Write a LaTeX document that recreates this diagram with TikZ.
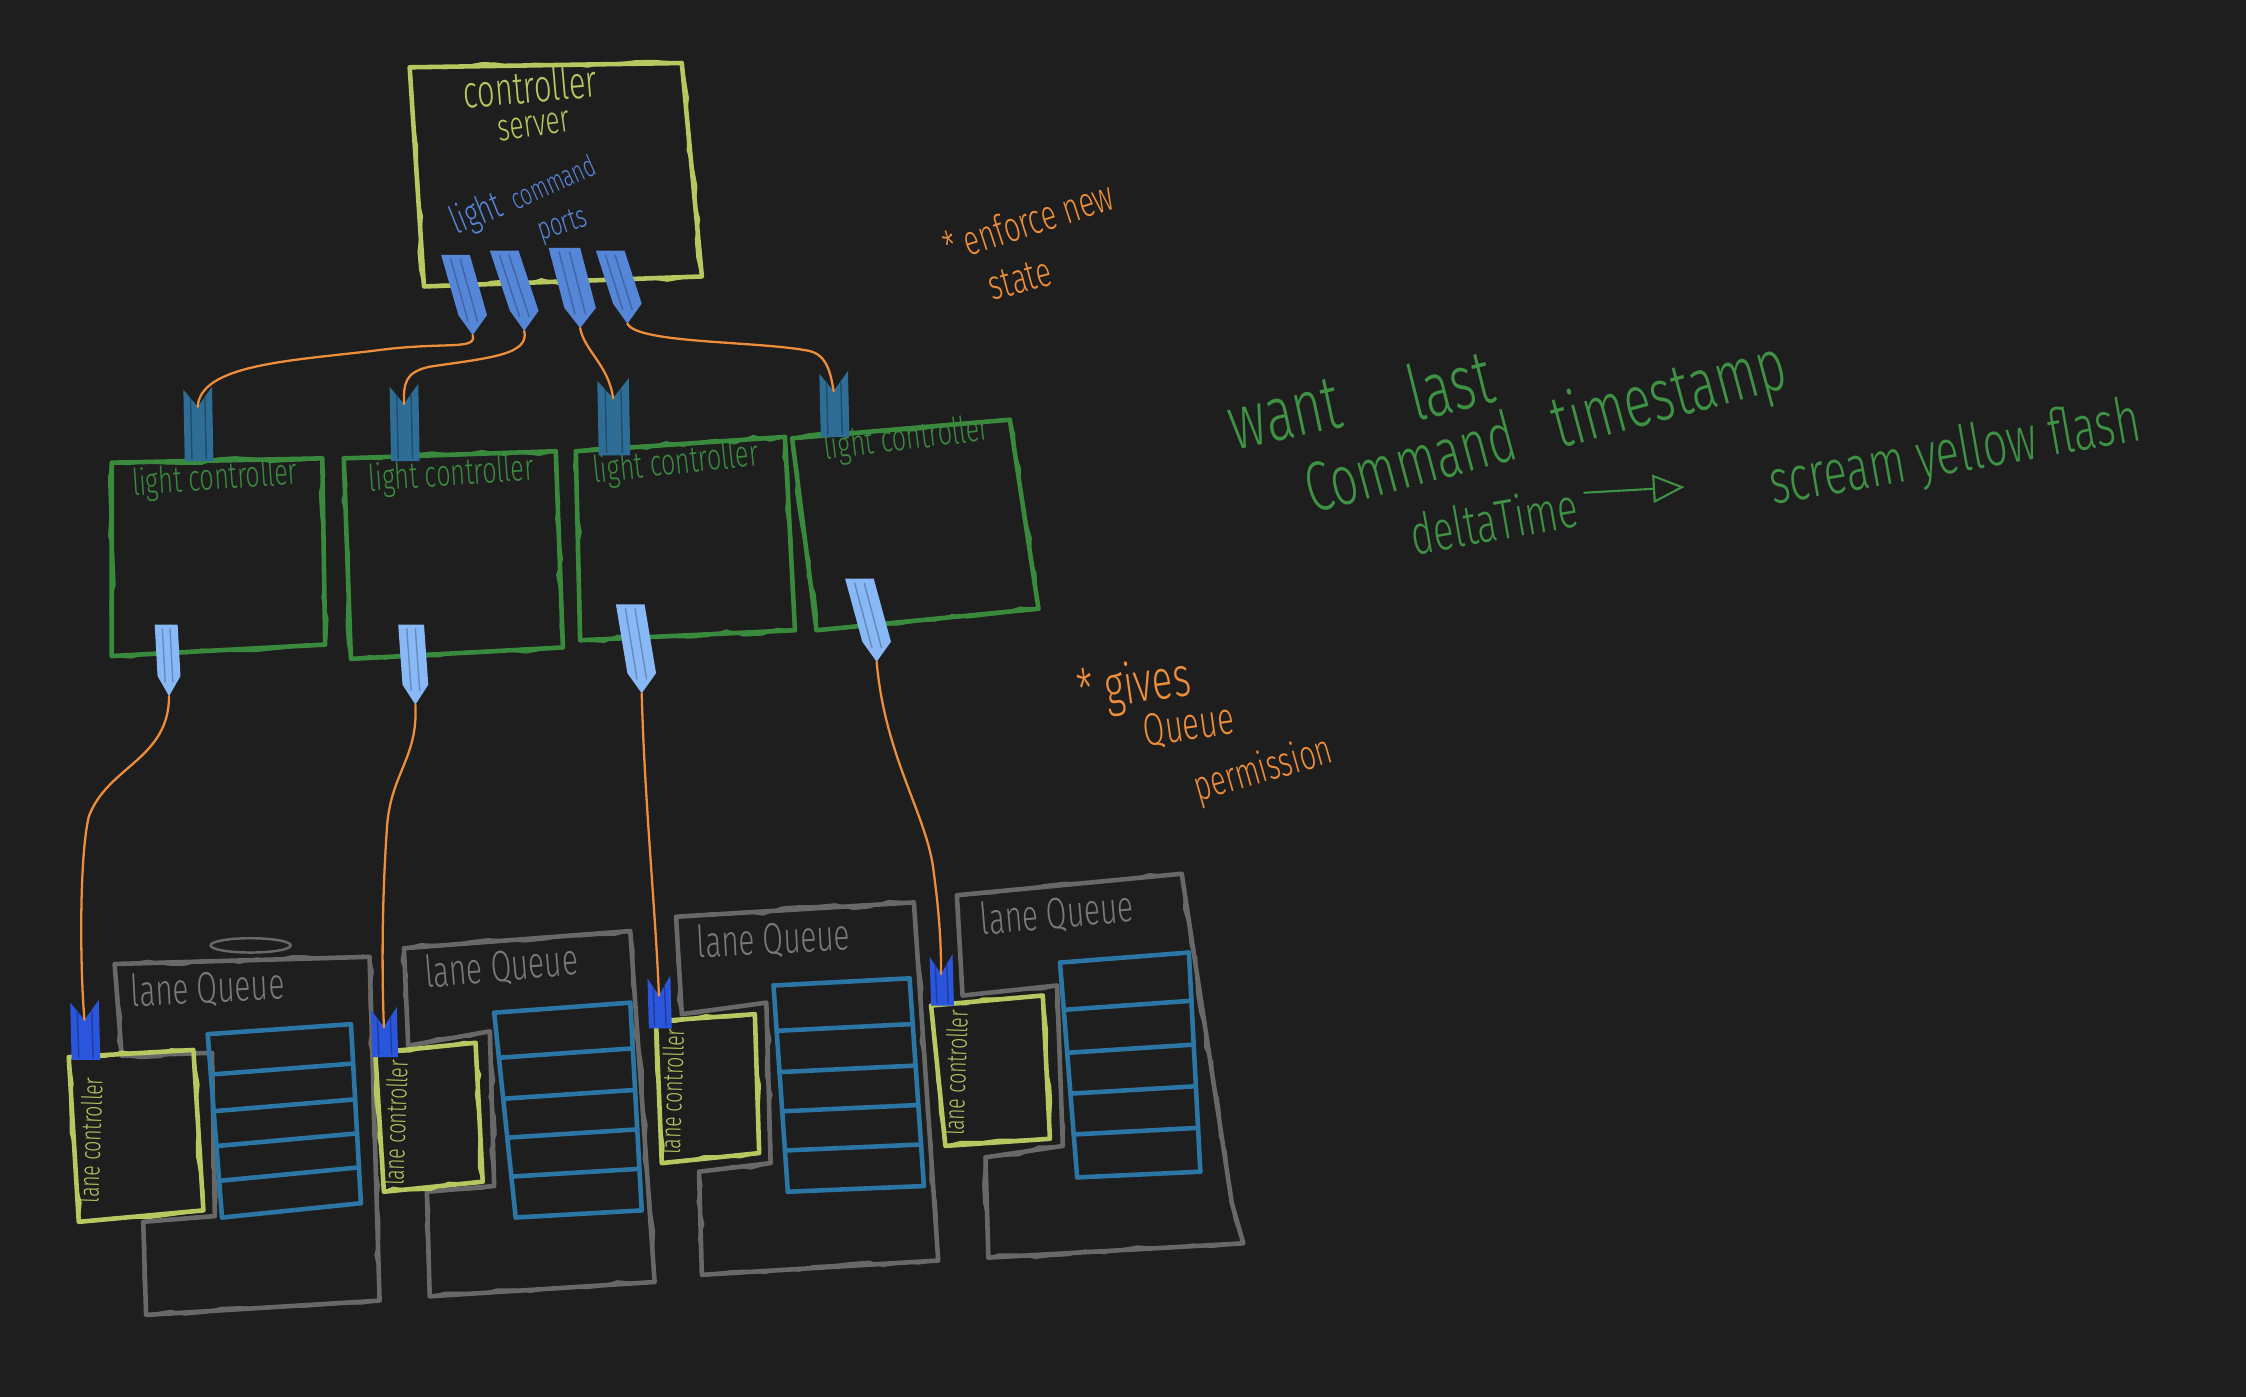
\documentclass[tikz,border=0pt]{standalone}
\usepackage{fontspec}
\setmainfont{Fira Sans Light}
\usetikzlibrary{decorations.pathmorphing,arrows.meta,calc}
\definecolor{bgc}{RGB}{30,30,30}
\definecolor{servercol}{RGB}{183,200,96}
\definecolor{portblue}{RGB}{86,134,216}
\definecolor{wireor}{RGB}{238,142,58}
\definecolor{lcgreen}{RGB}{58,138,62}
\definecolor{tealport}{RGB}{46,110,150}
\definecolor{lightport}{RGB}{136,184,245}
\definecolor{qgray}{RGB}{104,104,104}
\definecolor{qtext}{RGB}{122,122,122}
\definecolor{slotblue}{RGB}{44,118,166}
\definecolor{laneport}{RGB}{42,86,222}
\definecolor{txtgreen}{RGB}{62,146,68}
% #1 name, #2 Tx, #3 Ty, #4 Bx, #5 By, #6 half width, #7 colour
\newcommand\pencilport[7]{%
  \fill[#7] ({#2-#6},#3) -- ({#2+#6},#3) -- ({#4+#6},{#5-14}) -- (#4,#5) -- ({#4-#6},{#5-14}) -- cycle;
  \draw[#7!75!black,line width=0.4pt] ({#2-#6/3},{#3+3}) -- ({#4-#6/3},{#5-10});
  \draw[#7!75!black,line width=0.4pt] ({#2+#6/3},{#3+3}) -- ({#4+#6/3},{#5-10});
  \coordinate (#1top) at (#2,#3);
  \coordinate (#1tip) at (#4,#5);}
% #1 name, #2 cx, #3 top y, #4 bottom y, #5 half width, #6 colour
\newcommand\crownport[6]{%
  \fill[#6] ({#2-#5},#3) -- (#2,{#3+12}) -- ({#2+#5},{#3-2}) -- ({#2+#5+1},#4) -- ({#2-#5+1},#4) -- cycle;
  \draw[#6!70!black,line width=0.4pt] ({#2-#5/2},{#3+6}) -- ({#2-#5/2+1},{#4-2});
  \draw[#6!70!black,line width=0.4pt] ({#2+#5/2},{#3+6}) -- ({#2+#5/2+1},{#4-2});
  \coordinate (#1) at (#2,{#3+12});}
% #1 prefix, #2 TL, #3 TR, #4 BR, #5 BL
\newcommand\queueslots[5]{%
  \coordinate (#1TL) at #2; \coordinate (#1TR) at #3;
  \coordinate (#1BR) at #4; \coordinate (#1BL) at #5;
  \draw[slotline] (#1TL) -- (#1BL);
  \draw[slotline] (#1TR) -- (#1BR);
  \foreach \f in {0,0.22,0.42,0.61,0.8,1}
    \draw[slotline] ($(#1TL)!\f!(#1BL)$) -- ($(#1TR)!\f!(#1BR)$);}
\begin{document}
\begin{tikzpicture}[x=0.014324cm,y=-0.014324cm,line join=round,line cap=round,
  box/.style={draw=#1,line width=1.3pt,postaction={draw=#1,line width=0.6pt,decorate,decoration={random steps,segment length=5pt,amplitude=0.9pt}}},
  slotline/.style={draw=slotblue,line width=1.3pt},
  wire/.style={draw=wireor,line width=0.65pt},
  hand/.style={inner sep=0pt,xscale=0.68}]
\pgfmathsetseed{7}
\fill[bgc] (0,0) rectangle (1568,975);
\useasboundingbox (0,0) rectangle (1568,975);

% ---------------- controller server
\draw[box=servercol] (286,47) -- (476,44) -- (490,193) -- (296,200) -- cycle;
\node[rotate=5,hand,text=servercol,font=\fontsize{13}{15}\selectfont] (srv1) at (370,60) {controller};
\node[rotate=8,hand,text=servercol,font=\fontsize{11}{13}\selectfont] (srv2) at (373,88) {server};
\node[rotate=22,hand,text=portblue,font=\fontsize{11}{13}\selectfont] (lcp1) at (333,150) {light};
\node[rotate=24,hand,text=portblue,font=\fontsize{8.5}{10}\selectfont] (lcp2) at (386,127) {command};
\node[rotate=18,hand,text=portblue,font=\fontsize{9}{11}\selectfont] (lcp3) at (393,158) {ports};

\pencilport{P1}{318}{178}{330}{234}{10}{portblue}
\pencilport{P2}{352}{175}{366}{231}{10}{portblue}
\pencilport{P3}{394}{173}{405}{229}{11}{portblue}
\pencilport{P4}{426}{175}{438}{226}{10}{portblue}

% ---------------- light controllers
\draw[box=lcgreen] (78,323) -- (225,320) -- (227,450) -- (78,458) -- cycle;
\draw[box=lcgreen] (240,320) -- (388,315) -- (393,452) -- (245,460) -- cycle;
\draw[box=lcgreen] (402,315) -- (548,305) -- (555,440) -- (405,447) -- cycle;
\draw[box=lcgreen] (553,306) -- (705,293) -- (725,425) -- (570,440) -- cycle;
\node[rotate=4,hand,text=lcgreen,font=\fontsize{10.5}{12}\selectfont] (lc1) at (150,335) {light controller};
\node[rotate=4,hand,text=lcgreen,font=\fontsize{10.5}{12}\selectfont] (lc2) at (315,332) {light controller};
\node[rotate=6,hand,text=lcgreen,font=\fontsize{10.5}{12}\selectfont] (lc3) at (472,324) {light controller};
\node[rotate=7,hand,text=lcgreen,font=\fontsize{10.5}{12}\selectfont] (lc4) at (633,307) {light controller};

\crownport{T1}{138}{272}{322}{10}{tealport}
\crownport{T2}{282}{270}{322}{10}{tealport}
\crownport{T3}{428}{266}{318}{11}{tealport}
\crownport{T4}{582}{261}{305}{10}{tealport}

\pencilport{L1}{116}{436}{118}{486}{8}{lightport}
\pencilport{L2}{287}{436}{290}{492}{9}{lightport}
\pencilport{L3}{440}{422}{448}{484}{10}{lightport}
\pencilport{L4}{600}{404}{612}{462}{10}{lightport}

% ---------------- lane queues
\draw[box=qgray] (80,673) -- (258,668) -- (265,908) -- (102,918) -- (100,853) -- (150,849) -- (148,735) -- (85,737) -- cycle;
\draw[qgray,line width=0.7pt] (175,660) ellipse [x radius=28, y radius=5];
\draw[box=qgray] (282,662) -- (440,650) -- (457,895) -- (300,905) -- (298,832) -- (345,828) -- (342,720) -- (285,730) -- cycle;
\draw[box=qgray] (472,640) -- (638,630) -- (655,880) -- (490,890) -- (488,818) -- (538,812) -- (535,700) -- (476,708) -- cycle;
\draw[box=qgray] (668,625) -- (825,610) -- (860,840) -- (868,868) -- (690,878) -- (688,808) -- (742,800) -- (738,688) -- (672,695) -- cycle;
\node[rotate=3,hand,text=qtext,font=\fontsize{12.5}{14}\selectfont] (q1) at (145,690) {lane Queue};
\node[rotate=5,hand,text=qtext,font=\fontsize{12.5}{14}\selectfont] (q2) at (350,675) {lane Queue};
\node[rotate=3,hand,text=qtext,font=\fontsize{12.5}{14}\selectfont] (q3) at (540,656) {lane Queue};
\node[rotate=5,hand,text=qtext,font=\fontsize{12.5}{14}\selectfont] (q4) at (738,638) {lane Queue};

\queueslots{S1}{(145,722)}{(245,715)}{(252,840)}{(155,850)}
\queueslots{S2}{(345,707)}{(440,700)}{(448,845)}{(360,850)}
\queueslots{S3}{(540,688)}{(635,683)}{(645,828)}{(550,832)}
\queueslots{S4}{(740,672)}{(830,665)}{(838,818)}{(752,822)}

% ---------------- lane controllers
\draw[box=servercol] (48,738) -- (135,733) -- (142,845) -- (55,853) -- cycle;
\draw[box=servercol] (262,735) -- (332,728) -- (337,825) -- (268,832) -- cycle;
\draw[box=servercol] (458,713) -- (527,708) -- (530,805) -- (462,812) -- cycle;
\draw[box=servercol] (650,702) -- (728,695) -- (733,795) -- (660,800) -- cycle;
\node[rotate=88,hand,text=servercol,font=\fontsize{8}{9}\selectfont] (ln1) at (63,796) {lane controller};
\node[rotate=88,hand,text=servercol,font=\fontsize{8}{9}\selectfont] (ln2) at (276,784) {lane controller};
\node[rotate=88,hand,text=servercol,font=\fontsize{8}{9}\selectfont] (ln3) at (469,762) {lane controller};
\node[rotate=88,hand,text=servercol,font=\fontsize{8}{9}\selectfont] (ln4) at (667,749) {lane controller};

\crownport{LP1}{59}{700}{740}{10}{laneport}
\crownport{LP2}{268}{705}{738}{9}{laneport}
\crownport{LP3}{460}{683}{718}{8}{laneport}
\crownport{LP4}{657}{668}{702}{8}{laneport}

% ---------------- connectors
\draw[wire] (P1tip) .. controls (333,245) and (310,238) .. (260,245) .. controls (200,252) and (140,255) .. (T1);
\draw[wire] (P2tip) .. controls (370,248) and (340,250) .. (300,256) .. controls (282,260) and (282,268) .. (T2);
\draw[wire] (P3tip) .. controls (408,245) and (425,255) .. (T3);
\draw[wire] (P4tip) .. controls (445,240) and (530,238) .. (565,245) .. controls (578,248) and (580,262) .. (T4);
\draw[wire] (L1tip) .. controls (118,530) and (75,535) .. (62,570) .. controls (55,600) and (56,680) .. (LP1);
\draw[wire] (L2tip) .. controls (292,530) and (272,540) .. (270,580) .. controls (266,640) and (267,690) .. (LP2);
\draw[wire] (L3tip) .. controls (450,560) and (458,640) .. (LP3);
\draw[wire] (L4tip) .. controls (618,530) and (648,570) .. (652,610) .. controls (656,640) and (657,660) .. (LP4);

% ---------------- annotations
\node[rotate=18,hand,text=wireor,font=\fontsize{12}{13}\selectfont] (an1) at (718,154) {* enforce new};
\node[rotate=15,hand,text=wireor,font=\fontsize{12}{14}\selectfont] (an2) at (712,195) {state};
\node[rotate=8,hand,text=wireor,font=\fontsize{16}{18}\selectfont] (an3) at (792,480) {* gives};
\node[rotate=8,hand,text=wireor,font=\fontsize{13}{15}\selectfont] (an4) at (830,507) {Queue};
\node[rotate=16,hand,text=wireor,font=\fontsize{12}{14}\selectfont] (an5) at (882,538) {permission};

\node[rotate=12,hand,text=txtgreen,font=\fontsize{22}{26}\selectfont] (g1) at (897,289) {want};
\node[rotate=14,hand,text=txtgreen,font=\fontsize{22}{26}\selectfont] (g2) at (1012,268) {last};
\node[rotate=15,hand,text=txtgreen,font=\fontsize{20}{24}\selectfont] (g3) at (984,322) {Command};
\node[rotate=15,hand,text=txtgreen,font=\fontsize{21}{25}\selectfont] (g4) at (1166,278) {timestamp};
\node[rotate=10,hand,text=txtgreen,font=\fontsize{16}{19}\selectfont] (g5) at (1043,363) {deltaTime};
\node[rotate=10,hand,text=txtgreen,font=\fontsize{18}{21}\selectfont] (g6) at (1365,318) {scream yellow flash};
\coordinate (arrA) at (1106,344);
\coordinate (arrB) at (1176,340);
\draw[txtgreen,line width=0.6pt,-{Triangle[open,length=9pt,width=8pt]}] (arrA) -- (arrB);
\end{tikzpicture}
\end{document}
